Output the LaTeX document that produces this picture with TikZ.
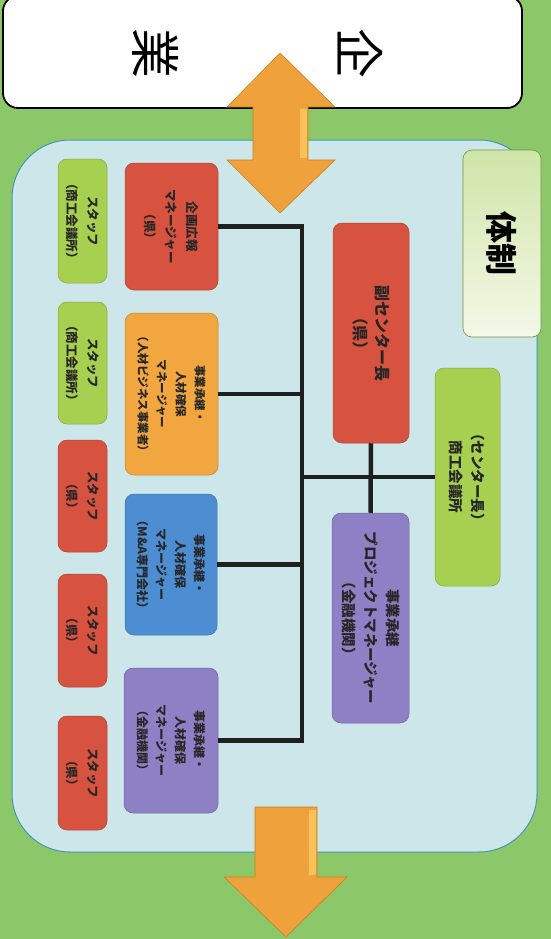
\documentclass[tikz,border=0pt]{standalone}
\usepackage{fontspec}
\newfontfamily\jp{Noto Sans CJK JP}
\usetikzlibrary{calc}
\definecolor{bggreen}{HTML}{8CC76A}
\definecolor{panel}{HTML}{CDE6E9}
\definecolor{panelline}{HTML}{3A9AB5}
\definecolor{redbox}{HTML}{D8533F}
\definecolor{orangebox}{HTML}{F2A640}
\definecolor{bluebox}{HTML}{4D8ED3}
\definecolor{purplebox}{HTML}{8E80C4}
\definecolor{greenbox}{HTML}{A8D050}
\definecolor{titlegreen}{HTML}{CFE5A8}
\definecolor{titlelight}{HTML}{F4F8E8}
\definecolor{arroworange}{HTML}{EFA13B}
\definecolor{arrowedge}{HTML}{C98020}
\definecolor{arrowhi}{HTML}{F8C25A}
\begin{document}
\begin{tikzpicture}[x=1pt,y=1pt,
  box/.style={rounded corners=9pt, rotate=-90, align=center, inner sep=1pt,
    font=\jp\bfseries\fontsize{12.5}{21}\selectfont, text=black!85, line width=0.5pt},
  bigbox/.style={box, font=\jp\bfseries\fontsize{14.5}{22}\selectfont},
  redb/.style={fill=redbox, draw=redbox!80!black},
  orangeb/.style={fill=orangebox, draw=orangebox!80!black},
  blueb/.style={fill=bluebox, draw=bluebox!80!black},
  purpleb/.style={fill=purplebox, draw=purplebox!80!black},
  greenb/.style={fill=greenbox, draw=greenbox!80!black},
  bigchar/.style={rotate=-90, inner sep=0pt, font=\jp\fontsize{50}{50}\selectfont},
  conn/.style={line width=4.5pt, draw=black!88},
  arrowshape/.style={fill=arroworange, draw=arrowedge, line width=0.6pt, line join=miter}]
\useasboundingbox (0,0) rectangle (551,-939);
\fill[bggreen] (0,0) rectangle (551,-939);
% panel
\draw[fill=panel, draw=panelline, line width=1pt, rounded corners=58pt] (12,-140) rectangle (537,-852);
% top white box
\draw[fill=white, line width=1.8pt, rounded corners=15pt] (3,4) rectangle (522,-108);
\node[bigchar] (kigyo1) at (360,-54) {企};
\node[bigchar] (kigyo2) at (156,-54) {業};
% title box
\node[rotate=-90, rounded corners=9pt, top color=titlegreen, bottom color=titlelight, draw=greenbox!70!black, line width=0.6pt,
  minimum width=187pt, minimum height=78pt, font=\jp\bfseries\fontsize{32}{32}\selectfont] (title) at (502,-243.5) {体制};
% right column
\node[bigbox, redb, minimum width=220pt, minimum height=76pt, font=\jp\bfseries\fontsize{16}{22}\selectfont] (v) at (371,-333) {副センター長\\（県）};
\node[bigbox, purpleb, minimum width=210pt, minimum height=77pt] (p) at (370.5,-618) {事業承継\\プロジェクトマネージャー\\（金融機関）};
\node[bigbox, greenb, minimum width=218pt, minimum height=65pt] (c) at (467.5,-477) {（センター長）\\商工会議所};
% managers
\node[box, redb, minimum width=127pt, minimum height=93pt] (m1) at (171.5,-226.5) {企画広報\\マネージャー\\（県）};
\node[box, orangeb, minimum width=162pt, minimum height=93pt, font=\jp\bfseries\fontsize{11.5}{19}\selectfont] (m2) at (171.5,-394) {事業承継・\\人材確保\\マネージャー\\（人材ビジネス事業者）};
\node[box, blueb, minimum width=141pt, minimum height=92pt, font=\jp\bfseries\fontsize{12}{19}\selectfont] (m3) at (171,-564.5) {事業承継・\\人材確保\\マネージャー\\（M\&A専門会社）};
\node[box, purpleb, minimum width=145pt, minimum height=94pt, font=\jp\bfseries\fontsize{12}{19}\selectfont] (m4) at (171,-740.5) {事業承継・\\人材確保\\マネージャー\\（金融機関）};
% staff
\node[box, greenb, minimum width=124pt, minimum height=49pt] (s1) at (82.5,-221) {スタッフ\\（商工会議所）};
\node[box, greenb, minimum width=122pt, minimum height=49pt] (s2) at (82.5,-363) {スタッフ\\（商工会議所）};
\node[box, redb, minimum width=112pt, minimum height=49pt] (s3) at (82.5,-496) {スタッフ\\（県）};
\node[box, redb, minimum width=113pt, minimum height=49pt] (s4) at (82.5,-630.5) {スタッフ\\（県）};
\node[box, redb, minimum width=114pt, minimum height=49pt] (s5) at (82.5,-773) {スタッフ\\（県）};
% connectors
\coordinate (bus) at (302,0);
\draw[conn] (m1.north) -- (m1.north -| bus) -- (m4.north -| bus) -- (m4.north);
\draw[conn] (m2.north) -- (m2.north -| bus);
\draw[conn] (m3.north) -- (m3.north -| bus);
\draw[conn] (c.south -| bus) -- (c.south);
\draw[conn] (v.east) -- (p.west);
% arrows
\draw[arrowshape] (280,-53) -- (335,-107) -- (308,-107) -- (308,-160) -- (335,-160) -- (280,-213)
  -- (227,-160) -- (253,-160) -- (253,-107) -- (227,-107) -- cycle;
\fill[arrowhi] (300,-109) rectangle (306.5,-158);
\draw[arrowshape] (255,-807) -- (317,-807) -- (317,-877) -- (347,-877) -- (286,-937) -- (224,-877) -- (255,-877) -- cycle;
\fill[arrowhi] (309,-810) rectangle (315.5,-875);
\end{tikzpicture}
\end{document}
